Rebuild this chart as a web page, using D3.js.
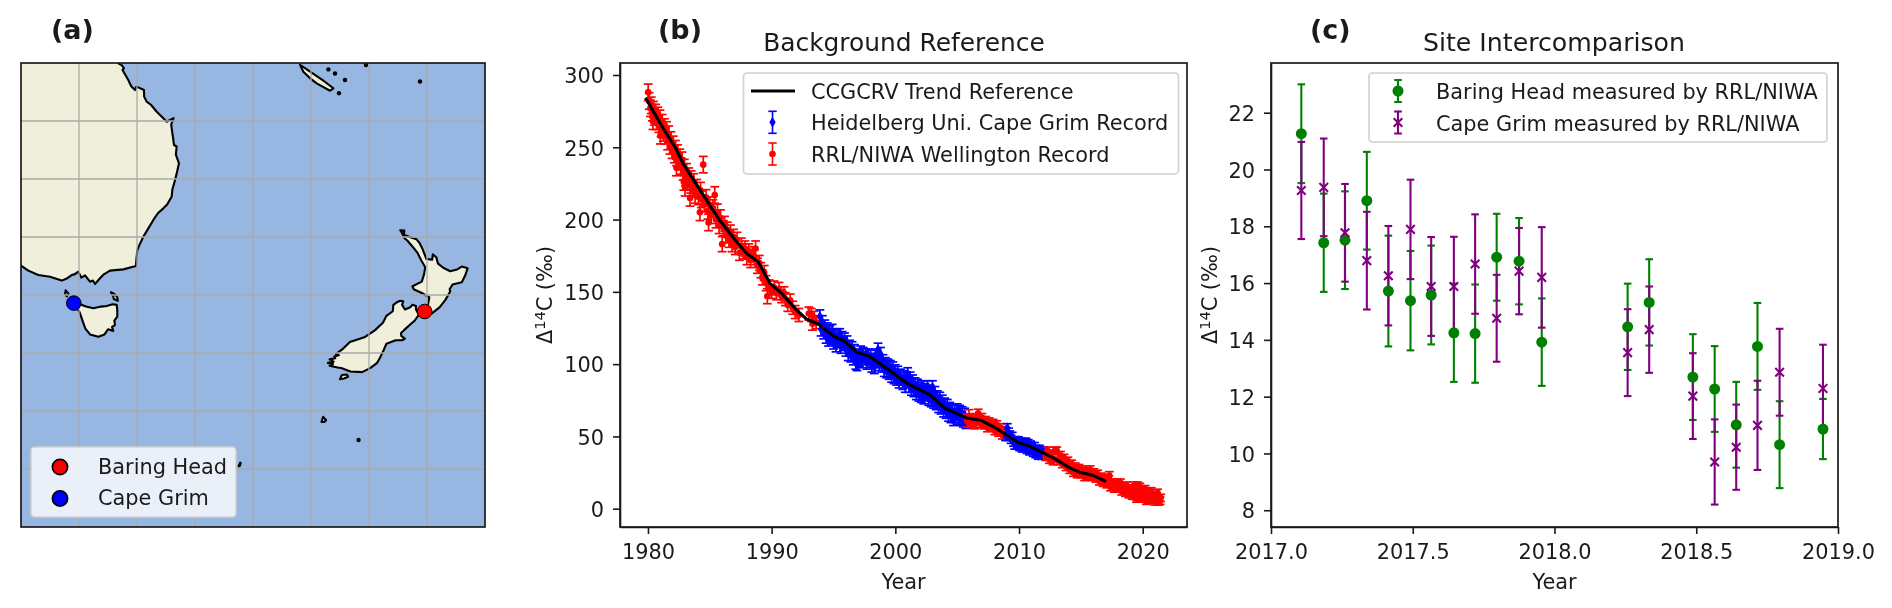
<!DOCTYPE html>
<html lang="en">
<head>
<meta charset="UTF-8">
<title>Radiocarbon background records</title>
<script src="https://d3js.org/d3.v7.min.js"></script>
<style>
    body { margin: 0; background: #fff; }
    svg { display: block; filter: blur(0.4px); }
    text { font-family: 'DejaVu Sans', sans-serif; fill: #1a1a1a; }
    .axis text { font-size: 20.85px; fill: #1a1a1a; font-family: 'DejaVu Sans', sans-serif; }
    .axis line, .axis path { stroke: #1a1a1a; stroke-width: 1.6px; }
</style>
</head>
<body>
<svg width="1892" height="608"></svg>
<script>
// map: coastlines as [lon, lat]
const australia = [[139,-19],[148.39,-19],[148.39,-20.03],[148.7,-20.2],[148.88,-20.46],[148.75,-20.6],[149.25,-21.47],[149.5,-22],[149.83,-22.33],[149.95,-22.05],[150.11,-22.1],[150.6,-22.33],[150.62,-22.9],[150.83,-23.33],[151.2,-23.6],[151.7,-24.2],[152.2,-24.7],[152.56,-25.06],[153.15,-24.75],[152.95,-25.3],[152.99,-25.63],[153.1,-26.4],[153.19,-27.07],[153.42,-27.2],[153.35,-27.9],[153.62,-28.65],[153.45,-29.4],[153.28,-30.09],[153.05,-30.9],[152.99,-31.52],[152.6,-32.2],[152.27,-32.53],[151.8,-32.95],[151.41,-33.53],[150.95,-34.3],[150.55,-34.97],[150.25,-35.6],[150.03,-36.12],[149.95,-36.9],[149.91,-37.5],[148.82,-37.79],[147.67,-37.9],[147.1,-38.25],[146.81,-38.56],[146.38,-39.05],[146.2,-38.75],[145.95,-38.85],[145.52,-38.3],[145.2,-38.5],[144.94,-37.99],[144.65,-38.2],[144.37,-38.28],[143.9,-38.6],[143.51,-38.76],[142.5,-38.42],[141.49,-38.28],[140.63,-37.9],[140,-37.47],[139,-36.5]];
const tasmania = [[144.66,-40.72],[145.09,-40.8],[145.6,-41],[146.24,-41.15],[146.9,-41],[147.39,-40.95],[147.9,-40.8],[148.25,-40.85],[148.3,-41.3],[148.3,-41.87],[148.05,-42.2],[148.1,-42.59],[147.85,-42.75],[147.95,-43.1],[147.5,-42.95],[147.2,-43.4],[146.67,-43.59],[145.95,-43.4],[145.55,-42.9],[145.37,-42.4],[145.2,-41.9],[145.03,-41.44],[144.7,-41]];
const kingIsland = [[143.85,-39.6],[144.1,-39.9],[143.95,-40.12],[143.8,-39.9]];
const flindersIsland = [[147.75,-39.75],[148.1,-39.95],[148.3,-40.2],[148.35,-40.5],[148.0,-40.35],[147.95,-40.1],[147.85,-39.95]];
const newCaledonia = [[164.05,-20.15],[164.7,-20.6],[165.34,-21.03],[166.1,-21.55],[166.93,-22.18],[166.64,-22.39],[165.49,-21.75],[164.9,-21.3],[164.34,-20.75]];
const stewartIsland = [[167.5,-47.25],[167.65,-46.9],[168.1,-46.85],[168.2,-47.05],[167.85,-47.2]];
const aucklandIslands = [[165.9,-50.95],[166.05,-50.5],[166.3,-50.8],[166.15,-50.95]];
const macquarieIsland = [[158.75,-54.75],[158.9,-54.45],[158.95,-54.5],[158.85,-54.75]];
const southIsland = [[172.7,-40.5],[172.95,-40.55],[172.85,-40.85],[173.1,-41.25],[173.55,-41.05],[173.75,-40.85],[174.05,-40.95],[174.05,-41.25],[174.3,-41.7],[173.95,-42.2],[173.55,-42.55],[173.0,-43.05],[172.75,-43.3],[172.8,-43.55],[173.1,-43.75],[172.85,-43.9],[172.3,-43.9],[171.5,-44.2],[171.2,-44.9],[170.95,-45.4],[170.7,-45.85],[170.1,-46.3],[169.4,-46.65],[168.4,-46.6],[167.6,-46.3],[167.3,-46.25],[166.6,-46.1],[166.9,-45.95],[166.45,-45.85],[166.95,-45.75],[166.6,-45.55],[167.1,-45.45],[167.0,-45.3],[167.4,-45.2],[167.15,-45.1],[167.8,-44.6],[168.35,-44.05],[169.6,-43.65],[170.5,-43.05],[171.2,-42.4],[171.5,-41.8],[172.05,-41.4],[172.1,-40.85],[172.45,-40.6]];
const northIsland = [[172.7,-34.42],[173.05,-34.45],[173.0,-34.8],[173.5,-35],[174.1,-35.2],[174.35,-35.5],[174.6,-36],[174.75,-36.4],[174.95,-36.9],[175.45,-36.95],[175.5,-36.5],[175.8,-36.75],[175.95,-37.3],[176.4,-37.65],[177,-37.95],[177.6,-37.8],[178.0,-37.55],[178.5,-37.7],[178.3,-38.3],[178.0,-38.9],[177.2,-39.1],[176.95,-39.5],[177.0,-39.7],[176.6,-40.4],[176.1,-41.05],[175.4,-41.6],[174.8,-41.35],[175.1,-40.75],[175.2,-40.2],[174.6,-39.85],[173.85,-39.5],[173.75,-39.25],[174.55,-38.85],[174.75,-38.2],[174.85,-37.6],[174.5,-37],[174.2,-36.4],[173.9,-36],[173.3,-35.3],[173.05,-35.1],[172.9,-34.75]];
const smallIslandLon = [166.5, 167.07, 167.93, 167.41, 169.74, 174.4, 169.1];
const smallIslandLat = [-20.55, -20.9, -21.47, -22.61, -20.17, -21.6, -52.5];
const gridLons = [145, 150, 155, 160, 165, 170, 175];
const gridLats = [-25, -30, -35, -40, -45, -50, -55];
const siteNames = ["Baring Head", "Cape Grim"];
const siteLons = [174.8, 144.55];
const siteLats = [-41.42, -40.7];
const siteColors = ["#ff0000", "#0000ff"];

// (b) records as [year, delta14C]
const ccgcrvYears = [1979.8,1981.25,1982.2,1982.85,1984.75,1985.8,1987.17,1987.98,1988.92,1989.86,1990.8,1992.02,1992.83,1993.77,1994.98,1995.93,1996.87,1997.95,1999.56,2000.91,2002.8,2004.0,2005.76,2006.97,2008.2,2009.94,2010.88,2012.77,2014.1,2014.9,2016.0,2017.03];
const ccgcrvValues = [284.2,262.8,250.1,238.7,213.3,199.5,184.6,176.6,170.7,155.9,149,137.4,131.1,127.8,119.5,115.6,108.3,105.2,95.5,86.9,78.8,69.6,62.7,61,55.4,45.8,43.1,35.1,28.2,25.2,23,18.8];
const wellingtonEarly = [[1980.02,288],[1980.1,282],[1980.19,277],[1980.27,279],[1980.36,274],[1980.4,268],[1980.45,276],[1980.53,271],[1980.62,274],[1980.71,268],[1980.8,272],[1980.88,266],[1980.97,270],[1981,258],[1981.06,263],[1981.15,267],[1981.24,260],[1981.33,264],[1981.41,258],[1981.5,262],[1981.59,254],[1981.68,259],[1981.77,251],[1981.86,255],[1981.95,248],[1982.04,252],[1982.13,245],[1982.22,249],[1982.3,236],[1982.31,243],[1982.4,246],[1982.49,240],[1982.58,243],[1982.67,237],[1982.76,241],[1982.85,233],[1982.9,226],[1982.94,236],[1983,222],[1983.03,229],[1983.12,233],[1983.21,226],[1983.3,230],[1983.4,215],[1983.45,224],[1983.5,228],[1983.6,221],[1983.7,226],[1983.82,217],[1983.95,222],[1984.08,216],[1984.2,205],[1984.25,220],[1984.32,214],[1984.47,238],[1984.55,211],[1984.7,215],[1984.85,206],[1984.9,198],[1985,210],[1985.12,203],[1985.25,208],[1985.4,217],[1985.5,200],[1985.62,205],[1985.75,196],[1985.87,201],[1986,183],[1986.1,194],[1986.2,197],[1986.3,189],[1986.42,193],[1986.55,186],[1986.67,191],[1986.8,183],[1986.92,188],[1987.05,181],[1987.2,186],[1987.4,177],[1987.55,182],[1987.7,178],[1987.85,180],[1988,174],[1988.15,178],[1988.3,172],[1988.45,176],[1988.6,174],[1988.7,180],[1988.85,168],[1989,170],[1989.12,165],[1989.25,160],[1989.4,163],[1989.55,156],[1989.65,147],[1989.8,153],[1990,150],[1990.2,153],[1990.4,149],[1990.6,152],[1990.8,147],[1991,149],[1991.1,145],[1991.3,141],[1991.5,144],[1991.7,139],[1991.9,136],[1992.2,134],[1993,135],[1993.2,134],[1993.3,128],[1993.45,132],[1993.6,129]];
const heidelbergEarly = [[1993.9,133],[1994,124],[1994.1,129],[1994.2,122],[1994.3,126],[1994.4,119],[1994.5,124],[1994.6,117],[1994.7,122],[1994.8,118],[1994.9,123],[1995,115],[1995.1,120],[1995.2,113],[1995.3,119],[1995.4,116],[1995.5,120],[1995.6,112],[1995.7,118],[1995.8,114],[1995.9,117],[1996,110],[1996.1,115],[1996.2,107],[1996.3,112],[1996.4,106],[1996.5,111],[1996.6,104],[1996.7,109],[1996.8,101],[1996.9,100],[1997,106],[1997.1,103],[1997.2,108],[1997.3,102],[1997.4,107],[1997.5,104],[1997.6,106],[1997.7,101],[1997.8,106],[1997.9,102],[1998,105],[1998.1,99],[1998.2,103],[1998.3,98],[1998.4,106],[1998.5,102],[1998.6,110],[1998.7,100],[1998.8,107],[1998.9,99],[1999,102],[1999.1,96],[1999.2,100],[1999.3,95],[1999.4,99],[1999.5,94],[1999.6,98],[1999.7,92],[1999.8,97],[1999.9,91],[2000,95],[2000.1,90],[2000.2,94],[2000.3,88],[2000.4,92],[2000.5,90],[2000.6,87],[2000.7,91],[2000.8,85],[2000.9,90],[2001,93],[2001.1,85],[2001.2,90],[2001.3,83],[2001.4,88],[2001.5,82],[2001.6,86],[2001.7,80],[2001.8,85],[2001.9,79],[2002,83],[2002.1,78],[2002.2,84],[2002.3,77],[2002.4,82],[2002.5,79],[2002.6,84],[2002.7,76],[2002.8,81],[2002.9,75],[2003,84],[2003.1,74],[2003.2,80],[2003.3,73],[2003.4,77],[2003.5,71],[2003.6,76],[2003.7,70],[2003.8,74],[2003.9,68],[2004,72],[2004.1,67],[2004.2,71],[2004.3,65],[2004.4,69],[2004.5,64],[2004.6,68],[2004.7,62],[2004.8,67],[2004.9,64],[2005,68],[2005.1,63],[2005.2,67],[2005.3,62],[2005.4,66],[2005.5,61],[2005.6,65],[2005.7,60]];
const wellingtonMid = [[2005.8,61],[2005.95,64],[2006.1,59],[2006.25,63],[2006.4,58],[2006.55,62],[2006.7,66],[2006.85,59],[2007,63],[2007.15,58],[2007.3,61],[2007.45,56],[2007.6,60],[2007.75,57],[2007.9,59],[2008.05,54],[2008.2,58],[2008.35,53],[2008.5,56],[2008.65,51],[2008.8,54],[2008.9,50]];
const heidelbergLate = [[2008.95,50],[2009.05,56],[2009.15,53],[2009.25,51],[2009.35,48],[2009.45,50],[2009.55,46],[2009.65,44],[2009.75,47],[2009.85,44],[2009.95,47],[2010.05,43],[2010.15,46],[2010.25,42],[2010.35,45],[2010.45,43],[2010.55,46],[2010.65,41],[2010.75,45],[2010.85,40],[2010.95,44],[2011.05,41],[2011.15,39],[2011.25,43],[2011.35,38],[2011.45,41],[2011.55,37],[2011.65,41],[2011.75,39],[2011.85,37],[2011.95,40],[2012.05,40]];
const wellingtonLate = [[2012.15,36],[2012.3,40],[2012.45,34],[2012.6,38],[2012.75,33],[2012.9,40],[2013.05,40],[2013.2,33],[2013.35,37],[2013.5,31],[2013.65,35],[2013.8,29],[2013.95,33],[2014.1,27],[2014.25,31],[2014.4,25],[2014.55,29],[2014.7,24],[2014.85,28],[2015,24],[2015.15,27],[2015.3,22],[2015.45,26],[2015.6,23],[2015.75,27],[2015.9,22],[2016.05,25],[2016.2,21],[2016.35,24],[2016.5,19],[2016.65,22],[2016.8,18],[2016.95,21],[2017.1,17],[2017.25,20],[2017.3,23],[2017.4,15],[2017.55,18],[2017.7,14],[2017.85,17],[2017.9,18],[2018,14],[2018.15,16],[2018.2,18],[2018.3,12],[2018.45,15],[2018.6,11],[2018.7,16],[2018.75,14],[2018.9,10],[2019.05,13],[2019.15,9],[2019.25,12],[2019.3,16],[2019.35,9],[2019.45,12],[2019.5,7],[2019.55,8],[2019.6,16],[2019.7,11],[2019.77,15],[2019.85,7.5],[2019.95,7],[2020,13],[2020.1,8],[2020.2,13.5],[2020.25,11],[2020.3,5.5],[2020.4,6.5],[2020.55,10],[2020.7,12],[2020.75,6],[2020.85,9],[2021,5],[2021.1,8.5],[2021.2,11],[2021.3,5],[2021.4,5.5],[2021.45,7.5]];
const errorEras = [1986, 1990, 2006, 2012, 2018];
const errorSizes = [5.7, 5.2, 4.5, 2.8, 2.6, 2.5];

// (c) intercomparison
const siteYears = [2017.107,2017.186,2017.261,2017.338,2017.414,2017.492,2017.565,2017.645,2017.72,2017.796,2017.875,2017.955,2018.258,2018.334,2018.488,2018.565,2018.641,2018.716,2018.794,2018.947];
const baringValues = [21.26,17.42,17.51,18.9,15.72,15.38,15.58,14.25,14.22,16.91,16.77,13.92,14.46,15.32,12.69,12.27,11.01,13.77,10.31,10.86];
const baringErrors = [1.74,1.73,1.72,1.72,1.95,1.75,1.74,1.73,1.73,1.53,1.52,1.54,1.52,1.52,1.51,1.51,1.51,1.53,1.53,1.06];
const capeGrimValues = [19.26,19.37,17.77,16.79,16.26,17.89,15.88,15.88,16.67,14.76,16.42,16.2,13.55,14.36,12.02,9.7,10.22,10.99,12.86,12.29];
const capeGrimErrors = [1.71,1.72,1.72,1.72,1.75,1.75,1.74,1.75,1.75,1.53,1.52,1.77,1.53,1.52,1.51,1.5,1.5,1.57,1.53,1.54];

const svg = d3.select("svg");
const mapBox = {x0: 21, x1: 485, y0: 63, y1: 527};
const bBox = {x0: 620, x1: 1187, y0: 63, y1: 527};
const cBox = {x0: 1271, x1: 1838, y0: 63, y1: 527};

function frame(box) {
    svg.append("rect").attr("x", box.x0).attr("y", box.y0)
        .attr("width", box.x1 - box.x0).attr("height", box.y1 - box.y0)
        .attr("fill", "none").attr("stroke", "#1a1a1a").attr("stroke-width", 1.7);
}

function legendBox(x, y, w, h) {
    svg.append("rect").attr("x", x).attr("y", y).attr("width", w).attr("height", h).attr("rx", 3.5)
        .attr("fill", "#fff").attr("fill-opacity", 0.8).attr("stroke", "#d0d0d0").attr("stroke-width", 1.6);
}

function label(x, y, str, size, weight) {
    return svg.append("text").attr("x", x).attr("y", y).text(str)
        .attr("font-size", size).attr("font-weight", weight || "normal");
}

function deltaLabel(x) {
    const t = svg.append("text").attr("transform", `translate(${x},295) rotate(-90)`)
        .attr("text-anchor", "middle").attr("font-size", 20.85);
    t.append("tspan").text("\u0394");
    t.append("tspan").text("14").attr("font-size", 14.5).attr("dy", -7.5);
    t.append("tspan").text("C (\u2030)").attr("dy", 7.5);
}

// tick labels sit a touch lower than d3's default
function drawAxis(group, axis) {
    group.attr("class", "axis").call(axis.tickSizeOuter(0));
}

// (a) map
const lonScale = d3.scaleLinear().domain([140, 180]).range([mapBox.x0, mapBox.x1]);
const latScale = d3.scaleLinear().domain([-20, -60]).range([mapBox.y0, mapBox.y1]);
const coast = d3.line().x(d => lonScale(d[0])).y(d => latScale(d[1])).curve(d3.curveLinearClosed);

svg.append("clipPath").attr("id", "mapClip").append("rect")
    .attr("x", mapBox.x0).attr("y", mapBox.y0)
    .attr("width", mapBox.x1 - mapBox.x0).attr("height", mapBox.y1 - mapBox.y0);
const map = svg.append("g").attr("clip-path", "url(#mapClip)");
map.append("rect").attr("x", mapBox.x0).attr("y", mapBox.y0)
    .attr("width", mapBox.x1 - mapBox.x0).attr("height", mapBox.y1 - mapBox.y0).attr("fill", "#97b6e1");
map.selectAll("path.land")
    .data([australia, tasmania, kingIsland, flindersIsland, newCaledonia, stewartIsland, aucklandIslands, macquarieIsland, southIsland, northIsland])
    .join("path").attr("class", "land").attr("d", coast)
    .attr("fill", "#efefdb").attr("stroke", "#000").attr("stroke-width", 2.1).attr("stroke-linejoin", "round");
map.selectAll("circle.islet").data(smallIslandLon).join("circle").attr("class", "islet")
    .attr("cx", d => lonScale(d)).attr("cy", (d, i) => latScale(smallIslandLat[i])).attr("r", 2.2).attr("fill", "#000");
map.selectAll("line.glon").data(gridLons).join("line").attr("class", "glon")
    .attr("x1", d => lonScale(d)).attr("x2", d => lonScale(d)).attr("y1", mapBox.y0).attr("y2", mapBox.y1)
    .attr("stroke", "#aaa").attr("stroke-width", 1.3);
map.selectAll("line.glat").data(gridLats).join("line").attr("class", "glat")
    .attr("y1", d => latScale(d)).attr("y2", d => latScale(d)).attr("x1", mapBox.x0).attr("x2", mapBox.x1)
    .attr("stroke", "#aaa").attr("stroke-width", 1.3);
map.selectAll("circle.site").data(siteNames).join("circle").attr("class", "site")
    .attr("cx", (d, i) => lonScale(siteLons[i])).attr("cy", (d, i) => latScale(siteLats[i])).attr("r", 7.3)
    .attr("fill", (d, i) => siteColors[i]).attr("stroke", "#000").attr("stroke-width", 1);
frame(mapBox);
legendBox(31, 447, 205, 70);
siteNames.forEach((name, i) => {
    const rowY = [467, 498.5][i];
    svg.append("circle").attr("cx", 60).attr("cy", rowY).attr("r", 7.6)
        .attr("fill", siteColors[i]).attr("stroke", "#000").attr("stroke-width", 1.7);
    label(98, rowY + 6.5, name, 20.85);
});
label(51, 38.5, "(a)", 27, "bold");

// error bars shared by (b) and (c)
function errorBars(g, rows, color, capHalf, lineWidth) {
    const bars = g.append("g").attr("stroke", color).attr("stroke-width", lineWidth).attr("fill", "none");
    bars.selectAll("line.stem").data(rows).join("line").attr("class", "stem")
        .attr("x1", d => d.x).attr("x2", d => d.x).attr("y1", d => d.top).attr("y2", d => d.bot);
    bars.selectAll("line.capTop").data(rows).join("line").attr("class", "capTop")
        .attr("x1", d => d.x - capHalf).attr("x2", d => d.x + capHalf).attr("y1", d => d.top).attr("y2", d => d.top);
    bars.selectAll("line.capBot").data(rows).join("line").attr("class", "capBot")
        .attr("x1", d => d.x - capHalf).attr("x2", d => d.x + capHalf).attr("y1", d => d.bot).attr("y2", d => d.bot);
}

// (b) background reference
const xB = d3.scaleLinear().domain([1977.74, 2023.58]).range([bBox.x0, bBox.x1]);
const yB = d3.scaleLinear().domain([-12.66, 308.3]).range([bBox.y1, bBox.y0]);
const errorOf = d3.scaleThreshold().domain(errorEras).range(errorSizes);
const toRows = pairs => pairs.map(p => ({
    x: xB(p[0]), y: yB(p[1]), top: yB(p[1] + errorOf(p[0])), bot: yB(p[1] - errorOf(p[0]))
}));

function drawRecord(pairs, color, symbolType) {
    const rows = toRows(pairs);
    const g = svg.append("g");
    errorBars(g, rows, color, 4.4, 1.7);
    g.selectAll("path").data(rows).join("path")
        .attr("transform", d => `translate(${d.x},${d.y})`)
        .attr("d", d3.symbol().type(symbolType).size(34)).attr("fill", color);
}
drawRecord(wellingtonEarly, "#ff0000", d3.symbolCircle);
drawRecord(heidelbergEarly, "#0000ff", d3.symbolDiamond);
drawRecord(wellingtonMid, "#ff0000", d3.symbolCircle);
drawRecord(heidelbergLate, "#0000ff", d3.symbolDiamond);
drawRecord(wellingtonLate, "#ff0000", d3.symbolCircle);

svg.append("path").datum(ccgcrvYears)
    .attr("d", d3.line().x(d => xB(d)).y((d, i) => yB(ccgcrvValues[i])))
    .attr("fill", "none").attr("stroke", "#000").attr("stroke-width", 3.1);

drawAxis(svg.append("g").attr("transform", `translate(0,${bBox.y1})`),
    d3.axisBottom(xB).tickValues([1980, 1990, 2000, 2010, 2020]).tickFormat(d3.format("d")).tickSize(7).tickPadding(10));
drawAxis(svg.append("g").attr("transform", `translate(${bBox.x0},0)`),
    d3.axisLeft(yB).tickValues([0, 50, 100, 150, 200, 250, 300]).tickSize(7).tickPadding(9));
frame(bBox);
deltaLabel(552);
label(903.5, 589, "Year", 20.85).attr("text-anchor", "middle");
label(904, 50.5, "Background Reference", 24.9).attr("text-anchor", "middle");
label(658, 38.5, "(b)", 27, "bold");

legendBox(743.5, 73, 435, 101);
svg.append("line").attr("x1", 751).attr("x2", 795).attr("y1", 91).attr("y2", 91)
    .attr("stroke", "#000").attr("stroke-width", 3.1);
[["#0000ff", d3.symbolDiamond, 122.3], ["#ff0000", d3.symbolCircle, 154]].forEach(([color, sym, rowY]) => {
    errorBars(svg.append("g"), [{x: 772.5, top: rowY - 11, bot: rowY + 11}], color, 4.2, 1.6);
    svg.append("path").attr("transform", `translate(772.5,${rowY})`)
        .attr("d", d3.symbol().type(sym).size(34)).attr("fill", color);
});
label(811, 99, "CCGCRV Trend Reference", 20.85);
label(811, 130, "Heidelberg Uni. Cape Grim Record", 20.85);
label(811, 162, "RRL/NIWA Wellington Record", 20.85);

// (c) site intercomparison
const xC = d3.scaleLinear().domain([2017, 2019]).range([cBox.x0, cBox.x1]);
const yC = d3.scaleLinear().domain([7.41, 23.75]).range([cBox.y1, cBox.y0]);
const siteRows = (vals, errs) => siteYears.map((yr, i) => ({
    x: xC(yr), y: yC(vals[i]), top: yC(vals[i] + errs[i]), bot: yC(vals[i] - errs[i])
}));
const green = "#008000", purple = "#800080";
const xMark = d3.symbol().type(d3.symbolX).size(50);

// bars first, then the markers over both series
errorBars(svg.append("g"), siteRows(baringValues, baringErrors), green, 3.8, 2.1);
errorBars(svg.append("g"), siteRows(capeGrimValues, capeGrimErrors), purple, 3.8, 2.1);
svg.append("g").selectAll("circle").data(siteRows(baringValues, baringErrors)).join("circle")
    .attr("cx", d => d.x).attr("cy", d => d.y).attr("r", 5.5).attr("fill", green);
svg.append("g").selectAll("path").data(siteRows(capeGrimValues, capeGrimErrors)).join("path")
    .attr("transform", d => `translate(${d.x},${d.y})`).attr("d", xMark)
    .attr("fill", "none").attr("stroke", purple).attr("stroke-width", 2.1);

drawAxis(svg.append("g").attr("transform", `translate(0,${cBox.y1})`),
    d3.axisBottom(xC).tickValues([2017, 2017.5, 2018, 2018.5, 2019]).tickFormat(d3.format(".1f")).tickSize(7).tickPadding(10));
drawAxis(svg.append("g").attr("transform", `translate(${cBox.x0},0)`),
    d3.axisLeft(yC).tickValues([8, 10, 12, 14, 16, 18, 20, 22]).tickSize(7).tickPadding(9));
svg.selectAll(".axis text").filter(function() { return d3.select(this).attr("dy") === "0.32em"; }).attr("dy", "0.37em");
frame(cBox);
deltaLabel(1217);
label(1554.5, 589, "Year", 20.85).attr("text-anchor", "middle");
label(1554, 50.5, "Site Intercomparison", 25.2).attr("text-anchor", "middle");
label(1310, 38.5, "(c)", 27, "bold");

legendBox(1369, 73, 458, 69);
errorBars(svg.append("g"), [{x: 1398, top: 80, bot: 102}], green, 3.8, 2.1);
svg.append("circle").attr("cx", 1398).attr("cy", 91).attr("r", 5.5).attr("fill", green);
errorBars(svg.append("g"), [{x: 1398, top: 111.5, bot: 133.5}], purple, 3.8, 2.1);
svg.append("path").attr("transform", "translate(1398,122.5)").attr("d", xMark)
    .attr("fill", "none").attr("stroke", purple).attr("stroke-width", 2.1);
label(1436, 99, "Baring Head measured by RRL/NIWA", 20.85);
label(1436, 130.5, "Cape Grim measured by RRL/NIWA", 20.85);
</script>
</body>
</html>
